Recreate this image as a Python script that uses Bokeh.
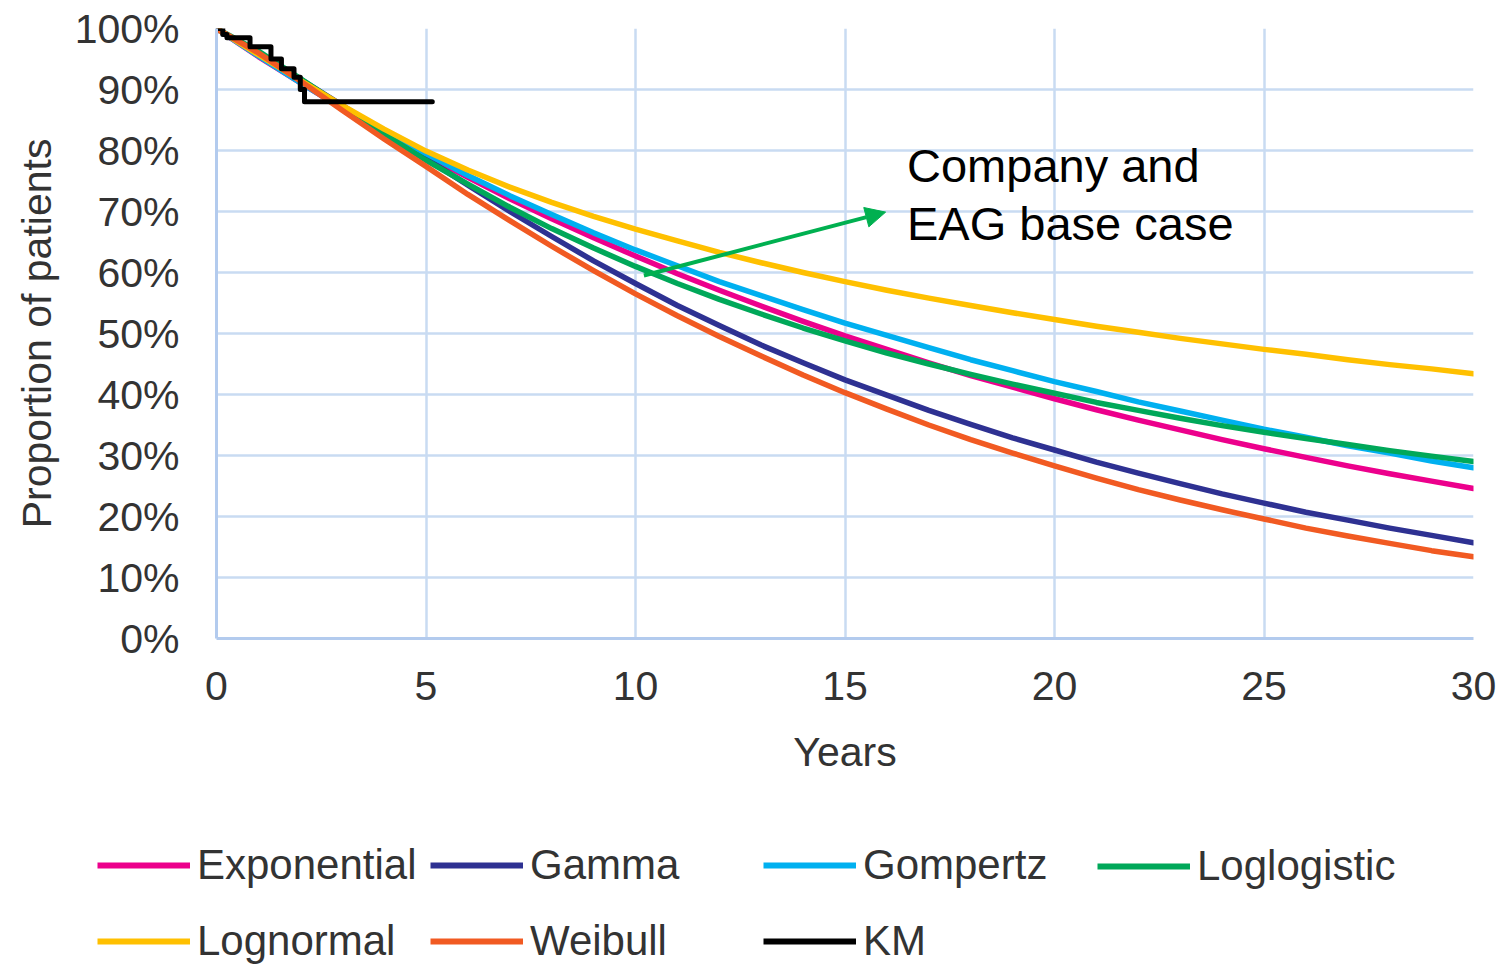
from bokeh.plotting import figure
from bokeh.models import (Range1d, FixedTicker, PrintfTickFormatter, Legend,
                          LegendItem, Label, Arrow, NormalHead)
from bokeh.embed import file_html
from bokeh.resources import INLINE

# Time points (years) at which the fitted survival curves are tabulated
years = list(range(0, 31))

# Fitted parametric survival (% of patients alive), one value per year
exponential = [100, 95.4, 91.1, 86.9, 82.9, 79.2, 75.6, 72.1, 68.8, 65.7,
               62.7, 59.8, 57.1, 54.5, 52.0, 49.6, 47.4, 45.2, 43.1, 41.2,
               39.3, 37.5, 35.8, 34.2, 32.6, 31.1, 29.7, 28.3, 27.0, 25.8, 24.6]
gamma = [100, 95.9, 91.7, 87.4, 83.0, 78.7, 74.3, 70.0, 65.9, 61.9,
         58.2, 54.6, 51.3, 48.1, 45.2, 42.4, 39.9, 37.4, 35.1, 32.9,
         30.9, 28.9, 27.1, 25.4, 23.7, 22.2, 20.7, 19.4, 18.1, 16.9, 15.7]
gompertz = [100, 95.5, 91.1, 87.0, 83.2, 79.5, 75.9, 72.6, 69.5, 66.5,
            63.7, 61.1, 58.5, 56.2, 53.9, 51.7, 49.7, 47.7, 45.7, 43.9,
            42.1, 40.5, 38.8, 37.3, 35.8, 34.3, 33.0, 31.6, 30.4, 29.1, 28.0]
loglogistic = [100, 96.3, 91.8, 87.2, 82.7, 78.4, 74.5, 70.7, 67.2, 64.0,
               61.0, 58.2, 55.6, 53.2, 50.9, 48.8, 46.8, 45.0, 43.3, 41.7,
               40.2, 38.7, 37.4, 36.1, 34.9, 33.8, 32.8, 31.8, 30.8, 29.9, 29.0]
lognormal = [100, 95.7, 91.5, 87.4, 83.5, 79.9, 76.8, 74.0, 71.5, 69.2,
             67.1, 65.2, 63.3, 61.6, 60.0, 58.5, 57.1, 55.8, 54.6, 53.4,
             52.3, 51.2, 50.2, 49.2, 48.3, 47.4, 46.6, 45.7, 44.9, 44.2, 43.4]
weibull = [100, 96.0, 91.4, 86.6, 81.9, 77.4, 72.8, 68.5, 64.3, 60.3,
           56.5, 52.9, 49.5, 46.3, 43.2, 40.3, 37.6, 35.0, 32.6, 30.4,
           28.3, 26.3, 24.4, 22.7, 21.1, 19.6, 18.1, 16.8, 15.6, 14.4, 13.4]

# Kaplan-Meier estimate (step function)
km_time = [0, 0.15, 0.25, 0.8, 1.3, 1.55, 1.85, 2.0, 2.1, 5.15]
km_surv = [100, 99.0, 98.5, 97.0, 95.0, 93.4, 92.0, 90.0, 88.0, 88.0]

x_ticks = [0, 5, 10, 15, 20, 25, 30]
y_ticks = [0, 10, 20, 30, 40, 50, 60, 70, 80, 90, 100]

FONT = "Liberation Sans"
GRID = "#c9dbf2"
AXIS = "#b3cbee"
TXT = "#333333"

series = [
    ("Exponential", exponential, "#ec008c"),
    ("Gamma", gamma, "#2e3192"),
    ("Gompertz", gompertz, "#00b0f0"),
    ("Loglogistic", loglogistic, "#00a859"),
    ("Lognormal", lognormal, "#ffc000"),
    ("Weibull", weibull, "#f15a22"),
]

# ---- main chart -------------------------------------------------------
p = figure(width=1506, height=825, output_backend="svg", toolbar_location=None,
           x_range=Range1d(0, 30), y_range=Range1d(0, 100),
           min_border_left=216, min_border_right=33, min_border_top=28,
           min_border_bottom=187)
p.outline_line_color = None
p.border_fill_color = "white"

for ax in (p.xaxis[0], p.yaxis[0]):
    ax.major_tick_line_color = None
    ax.minor_tick_line_color = None
    ax.axis_line_color = AXIS
    ax.axis_line_width = 3
    ax.major_label_text_font = FONT
    ax.major_label_text_font_size = "41px"
    ax.major_label_text_color = TXT
    ax.axis_label_text_font = FONT
    ax.axis_label_text_font_size = "41px"
    ax.axis_label_text_font_style = "normal"
    ax.axis_label_text_color = TXT

p.xaxis.ticker = FixedTicker(ticks=x_ticks)
p.yaxis.ticker = FixedTicker(ticks=y_ticks)
p.yaxis.formatter = PrintfTickFormatter(format="%d%%")
p.xaxis.axis_label = "Years"
p.yaxis.axis_label = "Proportion of patients"
p.xaxis.major_label_standoff = 27
p.yaxis.major_label_standoff = 31
p.xaxis.axis_label_standoff = 26
p.yaxis.axis_label_standoff = 12

p.grid.grid_line_color = GRID
p.grid.grid_line_width = 2.5
p.xgrid.ticker = FixedTicker(ticks=x_ticks)
p.ygrid.ticker = FixedTicker(ticks=y_ticks)

for name, vals, col in series:
    p.line(years, vals, line_color=col, line_width=5.5,
           line_join="round", line_cap="round")
p.step(km_time, km_surv, mode="after", line_color="black",
       line_width=5, line_join="round", line_cap="round")

# Annotation pointing at the base-case curve
p.add_layout(Arrow(end=NormalHead(size=20, fill_color="#00b050", line_color="#00b050"),
                   x_start=10.2, y_start=59.5, x_end=15.97, y_end=69.9,
                   line_color="#00b050", line_width=4))
for txt, yv in (("Company and", 77.6), ("EAG base case", 68.0)):
    p.add_layout(Label(x=16.48, y=yv, text=txt, text_font=FONT,
                       text_font_size="47px", text_color="black",
                       text_baseline="alphabetic"))

# ---- legend strip -----------------------------------------------------
leg_fig = figure(width=1506, height=140, output_backend="svg",
                 toolbar_location=None, x_axis_type=None, y_axis_type=None,
                 x_range=Range1d(0, 1), y_range=Range1d(0, 1),
                 min_border=0, min_border_left=0, min_border_right=0,
                 min_border_top=0, min_border_bottom=0)
leg_fig.outline_line_color = None
leg_fig.grid.visible = False

# key renderers sit outside the visible range; only their legend glyphs show
keys = {}
for name, _, col in series:
    keys[name] = leg_fig.line([5, 6], [5, 5], line_color=col, line_width=6)
keys["KM"] = leg_fig.line([5, 6], [5, 5], line_color="black", line_width=6)

columns = [["Exponential", "Lognormal"], ["Gamma", "Weibull"],
           ["Gompertz", "KM"], ["Loglogistic"]]
col_x = [97, 430, 763, 1097]
for names, cx in zip(columns, col_x):
    items = [LegendItem(label=n, renderers=[keys[n]]) for n in names]
    leg = Legend(items=items, orientation="vertical",
                 location=(cx, 0 + (2 - len(names)) * 75),
                 glyph_width=93, glyph_height=42, label_height=42,
                 label_standoff=7, spacing=28, padding=0, margin=0,
                 border_line_color=None, background_fill_alpha=0,
                 label_text_font=FONT, label_text_font_size="42px",
                 label_text_color=TXT)
    leg_fig.add_layout(leg, "center")

open("out.html", "w").write(file_html([p, leg_fig], INLINE))
